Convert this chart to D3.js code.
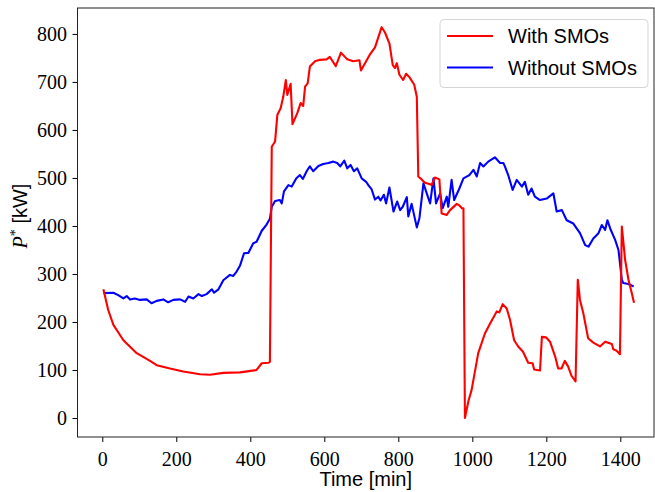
<!DOCTYPE html>
<meta charset="utf-8">

<!-- Load d3.js -->
<script src="https://d3js.org/d3.v7.min.js"></script>

<style>
  body { margin: 0; background: #fff; }
  .tick text { font-family: "Liberation Serif", serif; font-size: 20px; fill: #000; }
  .tick line { stroke: #000; }
  .domain { display: none; }
</style>

<div id="my_dataviz"></div>

<script>

// ---- data ----
var xTicks = [0, 200, 400, 600, 800, 1000, 1200, 1400];
var yTicks = [0, 100, 200, 300, 400, 500, 600, 700, 800];
var seriesNames = ["With SMOs", "Without SMOs"];

var withTime = [3, 16, 30, 57, 93, 129, 147, 183, 219, 264, 291, 327, 372, 417, 431, 449, 453,
  458, 467, 473, 482, 489, 496, 500, 509, 514, 527, 536, 543, 548, 555, 561, 575, 588, 606, 615,
  631, 645, 662, 678, 695, 699, 713, 724, 737, 755, 764, 776, 785, 791, 796, 803, 813, 821, 830,
  843, 850, 854, 863, 872, 886, 890, 899, 911, 917, 931, 936, 940, 958, 963, 972, 976,
  980, 990, 998, 1016, 1034, 1048, 1066, 1073, 1082, 1093, 1102, 1113, 1124, 1137, 1151, 1163,
  1167, 1183, 1188, 1199, 1210, 1224, 1232, 1241, 1250, 1259, 1268, 1279, 1285, 1291, 1300,
  1313, 1327, 1345, 1359, 1377, 1381, 1390, 1399, 1404, 1413, 1422, 1431, 1437];
var withPower = [268, 225, 194, 162, 135, 119, 110, 103, 97, 91, 90, 94, 95, 100, 114, 115, 117,
  565, 576, 631, 645, 669, 704, 673, 696, 612, 635, 656, 650, 690, 697, 732, 743, 746, 747, 752,
  733, 761, 747, 743, 745, 724, 743, 758, 772, 814, 803, 780, 735, 729, 739, 715, 704, 717, 710,
  694, 669, 503, 497, 490, 487, 485, 501, 497, 426, 423, 429, 433, 446, 444, 437, 437,
  0, 37, 58, 135, 176, 197, 222, 220, 237, 228, 204, 162, 149, 138, 115, 114,
  101, 99, 169, 168, 159, 128, 103, 103, 119, 107, 88, 76, 288, 246, 218,
  166, 157, 149, 159, 154, 143, 140, 133, 399, 329, 288, 260, 240];

var withoutTime = [3, 30, 43, 57, 66, 75, 88, 102, 120, 133, 147, 165, 178, 192, 210, 224, 233,
  246, 260, 269, 282, 296, 302, 314, 327, 345, 354, 363, 372, 383, 395, 408, 417, 431, 444, 453,
  458, 467, 480, 485, 491, 503, 512, 524, 534, 542, 553, 561, 570, 584, 597, 611, 624, 635, 643,
  654, 662, 671, 680, 689, 701, 713, 719, 728, 737, 746, 752, 761, 767, 776, 787, 797, 805, 812,
  823, 827, 836, 850, 857, 868, 875, 886, 895, 902, 913, 920, 931, 935, 944, 951, 965, 976, 992,
  1003, 1012, 1021, 1030, 1043, 1061, 1075, 1084, 1088, 1097, 1109, 1120, 1134, 1142, 1151, 1160,
  1169, 1183, 1201, 1219, 1228, 1242, 1255, 1273, 1291, 1305, 1314, 1327, 1341, 1350, 1359, 1365,
  1374, 1386, 1395, 1404, 1408, 1422, 1436];
var withoutPower = [260, 261, 256, 249, 254, 247, 249, 246, 247, 239, 244, 247, 241, 246, 247, 242, 253,
  249, 258, 254, 258, 268, 261, 268, 287, 298, 296, 305, 317, 343, 344, 364, 367, 390, 403, 415,
  440, 452, 454, 447, 472, 485, 482, 499, 506, 498, 515, 524, 514, 525, 529, 531, 534, 531, 524,
  536, 520, 527, 514, 520, 499, 492, 485, 476, 455, 461, 453, 465, 447, 480, 430, 451, 433, 440,
  460, 420, 446, 397, 416, 489, 472, 447, 499, 447, 468, 437, 461, 440, 496, 454, 478, 499, 506,
  517, 503, 531, 524, 534, 543, 531, 531, 524, 506, 475, 496, 482, 492, 465, 478,
  461, 454, 457, 468, 430, 433, 412, 405, 385, 360, 357, 374, 385, 402, 392, 412,
  392, 371, 350, 288, 281, 279, 274];

var series = [
  { name: seriesNames[0], color: "#ff0000", time: withTime, power: withPower },
  { name: seriesNames[1], color: "#0000ff", time: withoutTime, power: withoutPower }
];

// ---- layout ----
var W = 655, H = 492;
var plot = { left: 77.5, right: 654, top: 8, bottom: 437 };

var svg = d3.select("#my_dataviz")
  .append("svg")
    .attr("width", W)
    .attr("height", H);

var x = d3.scaleLinear()
  .domain([-67, 1491])
  .range([plot.left, plot.right]);

var y = d3.scaleLinear()
  .domain([-39.6, 854])
  .range([plot.bottom, plot.top]);

// axes
svg.append("g")
  .attr("transform", "translate(0," + plot.bottom + ")")
  .call(d3.axisBottom(x).tickValues(xTicks).tickSize(5).tickPadding(9.5).tickFormat(d3.format("d")));

svg.append("g")
  .attr("transform", "translate(" + plot.left + ",0)")
  .call(d3.axisLeft(y).tickValues(yTicks).tickSize(5).tickPadding(5.5).tickFormat(d3.format("d")));

// lines, clipped to the frame
svg.append("clipPath").attr("id", "clip")
  .append("rect")
    .attr("x", plot.left).attr("y", plot.top)
    .attr("width", plot.right - plot.left).attr("height", plot.bottom - plot.top);

var line = d3.line()
  .x(function(d) { return x(d[0]); })
  .y(function(d) { return y(d[1]); });

svg.append("g").attr("clip-path", "url(#clip)")
  .selectAll("path")
  .data(series.slice().reverse())
  .enter().append("path")
    .attr("fill", "none")
    .attr("stroke", function(d) { return d.color; })
    .attr("stroke-width", 2.1)
    .attr("stroke-linejoin", "round")
    .attr("d", function(d) { return line(d3.zip(d.time, d.power)); });

// frame
svg.append("rect")
  .attr("x", plot.left).attr("y", plot.top)
  .attr("width", plot.right - plot.left).attr("height", plot.bottom - plot.top)
  .attr("fill", "none")
  .attr("stroke", "#222")
  .attr("stroke-width", 1);

// axis labels
svg.append("text")
  .attr("x", (plot.left + plot.right) / 2)
  .attr("y", 486)
  .attr("text-anchor", "middle")
  .style("font-family", "Liberation Sans, sans-serif")
  .style("font-size", "20px")
  .text("Time [min]");

var ylab = svg.append("text")
  .attr("transform", "translate(27,216) rotate(-90)")
  .attr("text-anchor", "middle")
  .style("font-size", "20px");
ylab.append("tspan")
  .style("font-family", "Liberation Serif, serif")
  .style("font-style", "italic")
  .text("P");
ylab.append("tspan")
  .attr("dy", "-7")
  .style("font-family", "Liberation Serif, serif")
  .style("font-size", "14px")
  .text("*");
ylab.append("tspan")
  .attr("dy", "7")
  .style("font-family", "Liberation Sans, sans-serif")
  .text(" [kW]");

// legend
var legend = svg.append("g");
legend.append("rect")
  .attr("x", 440).attr("y", 19.5)
  .attr("width", 208).attr("height", 68)
  .attr("rx", 4)
  .attr("fill", "#fff")
  .attr("fill-opacity", 0.8)
  .attr("stroke", "#d6d6d6");

var item = legend.selectAll(".item")
  .data(series)
  .enter().append("g")
    .attr("transform", function(d, i) { return "translate(0," + (36 + i * 31.5) + ")"; });

item.append("line")
  .attr("x1", 447).attr("x2", 493)
  .attr("stroke", function(d) { return d.color; })
  .attr("stroke-width", 2.1);

item.append("text")
  .attr("x", 508)
  .attr("y", 7.3)
  .style("font-family", "Liberation Sans, sans-serif")
  .style("font-size", "20px")
  .text(function(d) { return d.name; });

</script>
